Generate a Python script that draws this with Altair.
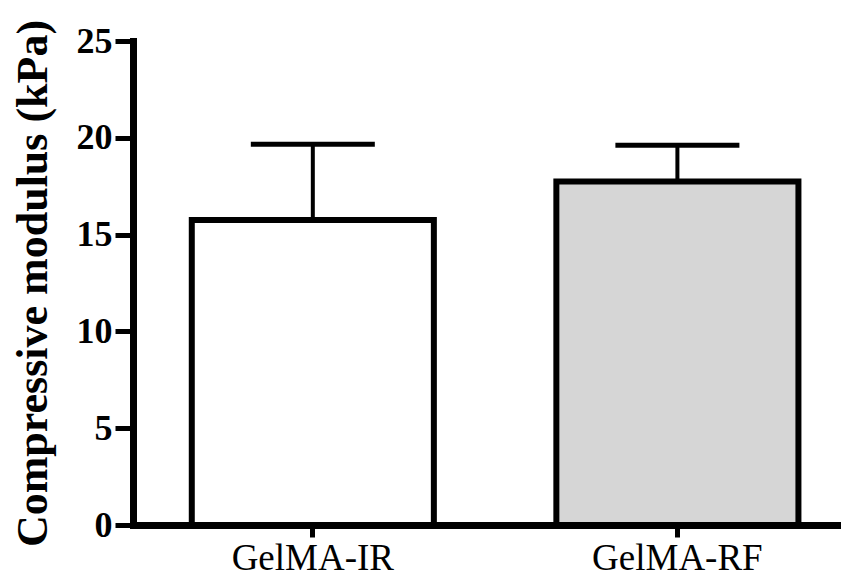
import altair as alt
import pandas as pd

groups = ["GelMA-IR", "GelMA-RF"]
means = [15.76, 17.74]
uppers = [19.67, 19.62]
fills = ["#ffffff", "#d6d6d6"]

df = pd.DataFrame({"group": groups, "mean": means, "upper": uppers, "fill": fills})

FONT = "Liberation Serif"

xscale = alt.Scale(paddingInner=0.336, paddingOuter=0.139, align=0.58, round=False)
yscale = alt.Scale(domain=[0, 25], nice=False)

x_axis = alt.Axis(
    labelAngle=0,
    labelFont=FONT,
    labelFontSize=37,
    labelFontWeight="normal",
    labelPadding=3,
    labelAlign="center",
    tickSize=12,
)
y_axis = alt.Axis(
    values=[0, 5, 10, 15, 20, 25],
    labelFont=FONT,
    labelFontSize=36,
    labelFontWeight="bold",
    labelPadding=3,
    tickSize=18,
    titleFont=FONT,
    titleFontSize=44,
    titleFontWeight="bold",
    titlePadding=21,
)

X = alt.X("group:N", title=None, sort=groups, scale=xscale, axis=x_axis)
Y = alt.Y("mean:Q", scale=yscale, title="Compressive modulus (kPa)", axis=y_axis)

bars = alt.Chart(df).mark_bar(stroke="black", strokeWidth=6, strokeJoin="miter").encode(
    x=X,
    y=Y,
    fill=alt.Fill("fill:N", scale=None, legend=None),
)

stems = alt.Chart(df).mark_rule(color="black", strokeWidth=4, opacity=1).encode(
    x=X,
    y=Y,
    y2="upper:Q",
)

caps = alt.Chart(df).mark_tick(color="black", size=124, thickness=5, orient="horizontal", opacity=1).encode(
    x=X,
    y=alt.Y("upper:Q", scale=yscale, title="Compressive modulus (kPa)", axis=y_axis),
)

chart = (
    alt.layer(stems, bars, caps)
    .properties(
        width=708,
        height=484,
        autosize=alt.AutoSizeParams(type="none"),
        padding={"left": 125, "top": 33, "right": 0, "bottom": 54},
        background="white",
    )
    .configure_view(stroke=None)
    .configure_axis(
        grid=False,
        domainColor="black",
        domainWidth=7,
        domainCap="square",
        tickColor="black",
        tickWidth=5,
        labelColor="black",
        titleColor="black",
    )
)

chart.save("out.html", embed_options={"renderer": "svg", "actions": False})
